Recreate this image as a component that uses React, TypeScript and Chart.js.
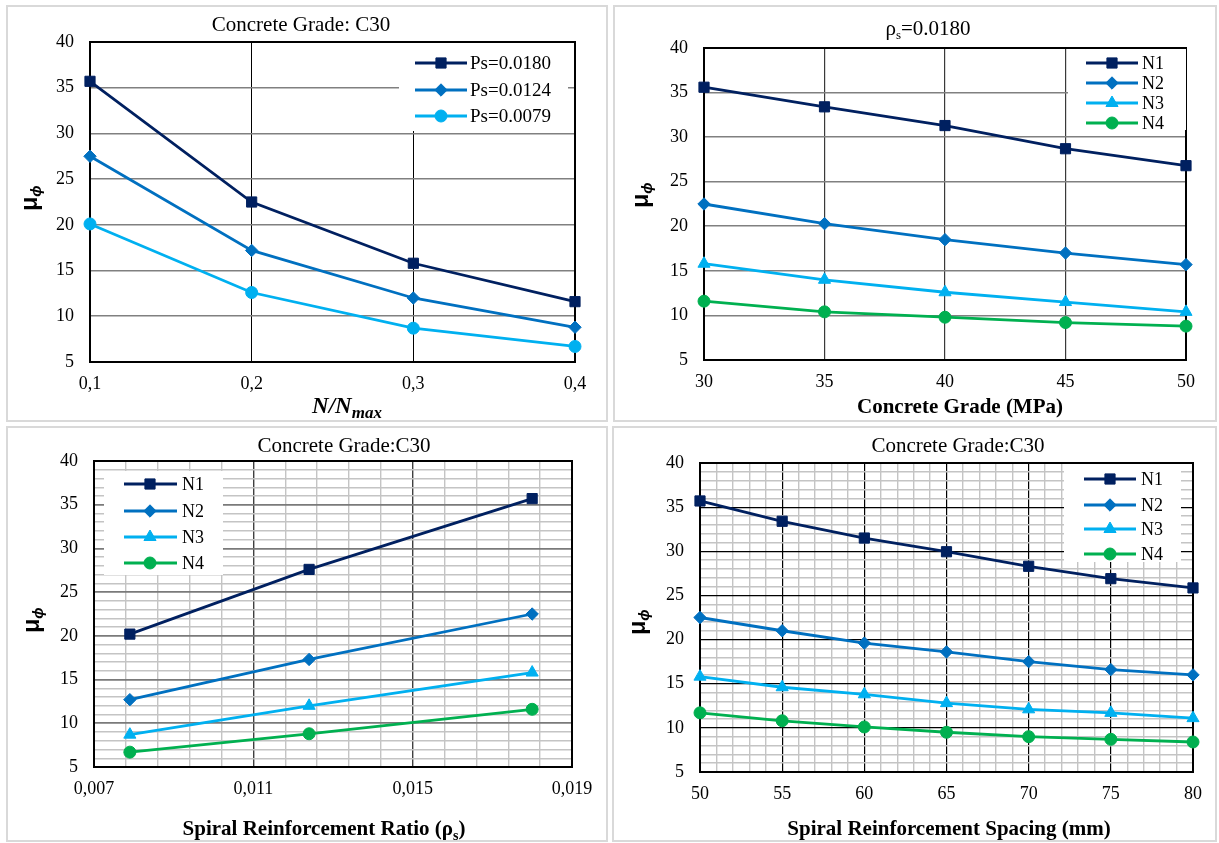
import React, { useEffect, useRef } from 'react';
import { Chart, registerables } from 'chart.js';

Chart.register(...registerables);

const NAVY = '#002060';
const BLUE = '#0070C0';
const CYAN = '#00B0F0';
const GREEN = '#00B050';

const SERIF = '"Liberation Serif", "Times New Roman", serif';
const SANS = '"Liberation Sans", Arial, sans-serif';

// ---------- shared y axis ----------
const yTickLabels = ['5', '10', '15', '20', '25', '30', '35', '40'];

// ---------- Panel A : N/Nmax ----------
const axialRatio = [0.1, 0.2, 0.3, 0.4];
const axialTickLabels = ['0,1', '0,2', '0,3', '0,4'];
const muPs0180 = [35.7, 22.5, 15.8, 11.6];
const muPs0124 = [27.5, 17.2, 12.0, 8.8];
const muPs0079 = [20.1, 12.6, 8.7, 6.7];

// ---------- Panel B : concrete grade ----------
const concreteGrade = [30, 35, 40, 45, 50];
const gradeTickLabels = ['30', '35', '40', '45', '50'];
const gradeN1 = [35.6, 33.4, 31.3, 28.7, 26.8];
const gradeN2 = [22.5, 20.3, 18.5, 17.0, 15.7];
const gradeN3 = [15.8, 14.0, 12.6, 11.5, 10.4];
const gradeN4 = [11.6, 10.4, 9.8, 9.2, 8.8];

// ---------- Panel C : spiral ratio ----------
const spiralRatio = [0.0079, 0.0124, 0.018];
const ratioTickLabels = ['0,007', '0,011', '0,015', '0,019'];
const ratioN1 = [20.2, 27.6, 35.7];
const ratioN2 = [12.7, 17.3, 22.5];
const ratioN3 = [8.7, 12.0, 15.8];
const ratioN4 = [6.7, 8.8, 11.6];

// ---------- Panel D : spiral spacing ----------
const spiralSpacing = [50, 55, 60, 65, 70, 75, 80];
const spacingTickLabels = ['50', '55', '60', '65', '70', '75', '80'];
const spacingN1 = [35.7, 33.4, 31.5, 29.95, 28.3, 26.9, 25.85];
const spacingN2 = [22.5, 21.0, 19.6, 18.6, 17.5, 16.6, 16.0];
const spacingN3 = [15.8, 14.6, 13.8, 12.8, 12.1, 11.7, 11.1];
const spacingN4 = [11.7, 10.8, 10.1, 9.5, 9.0, 8.7, 8.4];

type Marker = 'rect' | 'rectRot' | 'triangle' | 'circle';
const RADIUS: Record<Marker, number> = { rect: 7.2, rectRot: 6.2, triangle: 7, circle: 6 };

interface Series { label: string; values: number[]; color: string; marker: Marker }
interface Seg { t: string; font: string; dy?: number }
interface GridStyle { major: string; majorW: number; minor: string; minorW: number }
interface PanelSpec {
  pos: [number, number, number, number];
  area: [number, number, number, number];
  frame: [number, number, number, number];
  xs: number[];
  series: Series[];
  xMin: number; xMax: number; xStep: number; xEvery: number; xLabels: string[];
  yStep: number; yEvery: number;
  xGrid: GridStyle; yGrid: GridStyle;
  title: Seg[]; titlePos: [number, number];
  xTitle: Seg[]; xTitlePos: [number, number];
  yTitlePos: [number, number];
  legend: { box: [number, number, number, number]; line: [number, number]; mark: number; text: number; rows: number[]; size: number };
}

const nSeries = (a: number[], b: number[], c: number[], d: number[]): Series[] => [
  { label: 'N1', values: a, color: NAVY, marker: 'rect' },
  { label: 'N2', values: b, color: BLUE, marker: 'rectRot' },
  { label: 'N3', values: c, color: CYAN, marker: 'triangle' },
  { label: 'N4', values: d, color: GREEN, marker: 'circle' },
];

const T21 = `21px ${SERIF}`;
const B21 = `bold 21px ${SERIF}`;

const panels: PanelSpec[] = [
  {
    pos: [0, 0, 610, 425],
    area: [90, 42, 575, 362],
    frame: [7, 6, 607, 421],
    xs: axialRatio,
    series: [
      { label: 'Ps=0.0180', values: muPs0180, color: NAVY, marker: 'rect' },
      { label: 'Ps=0.0124', values: muPs0124, color: BLUE, marker: 'rectRot' },
      { label: 'Ps=0.0079', values: muPs0079, color: CYAN, marker: 'circle' },
    ],
    xMin: 0.1, xMax: 0.4, xStep: 0.1, xEvery: 1, xLabels: axialTickLabels,
    yStep: 5, yEvery: 1,
    xGrid: { major: '#000000', majorW: 1, minor: '#000000', minorW: 1 },
    yGrid: { major: '#808080', majorW: 1.6, minor: '#808080', minorW: 1.6 },
    title: [{ t: 'Concrete Grade: C30', font: T21 }], titlePos: [301, 31],
    xTitle: [
      { t: 'N/N', font: `italic bold 23px ${SERIF}` },
      { t: 'max', font: `italic bold 17px ${SERIF}`, dy: 5 },
    ],
    xTitlePos: [347, 413],
    yTitlePos: [37, 198],
    legend: { box: [399, 43, 568, 131], line: [415, 467], mark: 441, text: 470, rows: [63, 90, 116], size: 19 },
  },
  {
    pos: [610, 0, 609, 425],
    area: [94, 48, 576, 360],
    frame: [4, 6, 606, 421],
    xs: concreteGrade,
    series: nSeries(gradeN1, gradeN2, gradeN3, gradeN4),
    xMin: 30, xMax: 50, xStep: 5, xEvery: 1, xLabels: gradeTickLabels,
    yStep: 5, yEvery: 1,
    xGrid: { major: '#3a3a3a', majorW: 1.2, minor: '#3a3a3a', minorW: 1.2 },
    yGrid: { major: '#808080', majorW: 1.6, minor: '#808080', minorW: 1.6 },
    title: [
      { t: 'ρ', font: T21 },
      { t: 's', font: `13px ${SERIF}`, dy: 4 },
      { t: '=0.0180', font: T21 },
    ],
    titlePos: [318, 35],
    xTitle: [{ t: 'Concrete Grade (MPa)', font: B21 }], xTitlePos: [350, 413],
    yTitlePos: [38, 195],
    legend: { box: [458, 49, 576, 130], line: [476, 528], mark: 502, text: 532, rows: [63, 83, 103, 123], size: 18 },
  },
  {
    pos: [0, 425, 610, 418],
    area: [94, 36, 572, 342],
    frame: [7, 2, 607, 416],
    xs: spiralRatio,
    series: nSeries(ratioN1, ratioN2, ratioN3, ratioN4),
    xMin: 0.007, xMax: 0.019, xStep: 0.0008, xEvery: 5, xLabels: ratioTickLabels,
    yStep: 1, yEvery: 5,
    xGrid: { major: '#404040', majorW: 1.4, minor: '#c4c4c4', minorW: 1.4 },
    yGrid: { major: '#7a7a7a', majorW: 1.8, minor: '#c4c4c4', minorW: 1.4 },
    title: [{ t: 'Concrete Grade:C30', font: T21 }], titlePos: [344, 27],
    xTitle: [
      { t: 'Spiral Reinforcement Ratio (ρ', font: B21 },
      { t: 's', font: `bold 14px ${SERIF}`, dy: 5 },
      { t: ')', font: B21 },
    ],
    xTitlePos: [324, 410],
    yTitlePos: [39, 195],
    legend: { box: [104, 46, 223, 150], line: [124, 177], mark: 150, text: 182, rows: [59, 86, 112, 138], size: 18 },
  },
  {
    pos: [610, 425, 609, 418],
    area: [90, 38, 583, 347],
    frame: [3, 2, 606, 416],
    xs: spiralSpacing,
    series: nSeries(spacingN1, spacingN2, spacingN3, spacingN4),
    xMin: 50, xMax: 80, xStep: 1, xEvery: 5, xLabels: spacingTickLabels,
    yStep: 1, yEvery: 5,
    xGrid: { major: '#000000', majorW: 1.2, minor: '#c4c4c4', minorW: 1.4 },
    yGrid: { major: '#000000', majorW: 1.2, minor: '#c4c4c4', minorW: 1.4 },
    title: [{ t: 'Concrete Grade:C30', font: T21 }], titlePos: [348, 27],
    xTitle: [{ t: 'Spiral Reinforcement Spacing (mm)', font: B21 }], xTitlePos: [339, 410],
    yTitlePos: [35, 197],
    legend: { box: [454, 39, 571, 137], line: [474, 526], mark: 500, text: 531, rows: [54, 80, 104, 129], size: 18 },
  },
];

function drawRich(ctx: CanvasRenderingContext2D, segs: Seg[], x: number, y: number) {
  let total = 0;
  const widths = segs.map((s) => {
    ctx.font = s.font;
    const w = ctx.measureText(s.t).width;
    total += w;
    return w;
  });
  let cx = x - total / 2;
  ctx.textAlign = 'left';
  ctx.textBaseline = 'alphabetic';
  segs.forEach((s, i) => {
    ctx.font = s.font;
    ctx.fillText(s.t, cx, y + (s.dy || 0));
    cx += widths[i];
  });
}

function drawMarker(ctx: CanvasRenderingContext2D, m: Marker, x: number, y: number, color: string) {
  const r = RADIUS[m];
  ctx.beginPath();
  if (m === 'rect') {
    const s = Math.SQRT1_2 * r;
    ctx.rect(x - s, y - s, 2 * s, 2 * s);
  } else if (m === 'rectRot') {
    ctx.moveTo(x - r, y);
    ctx.lineTo(x, y - r);
    ctx.lineTo(x + r, y);
    ctx.lineTo(x, y + r);
    ctx.closePath();
  } else if (m === 'triangle') {
    for (let k = 0; k < 3; k++) {
      const a = (k * 2 * Math.PI) / 3;
      const px = x + Math.sin(a) * r;
      const py = y - Math.cos(a) * r;
      if (k === 0) ctx.moveTo(px, py); else ctx.lineTo(px, py);
    }
    ctx.closePath();
  } else {
    ctx.arc(x, y, r, 0, Math.PI * 2);
  }
  ctx.fillStyle = color;
  ctx.fill();
  ctx.strokeStyle = color;
  ctx.lineWidth = 1;
  ctx.stroke();
}

function buildConfig(p: PanelSpec): any {
  const [, , W, H] = p.pos;
  const [al, at, ar, ab] = p.area;
  const tickFont = { family: SERIF, size: 18 };
  const decor = {
    id: 'decor',
    beforeDatasetsDraw(chart: any) {
      const ctx = chart.ctx as CanvasRenderingContext2D;
      const a = chart.chartArea;
      ctx.save();
      ctx.strokeStyle = '#000';
      ctx.lineWidth = 2;
      ctx.strokeRect(a.left, a.top, a.right - a.left, a.bottom - a.top);
      ctx.restore();
    },
    afterDraw(chart: any) {
      const ctx = chart.ctx as CanvasRenderingContext2D;
      ctx.save();
      // legend
      const lg = p.legend;
      ctx.fillStyle = '#ffffff';
      ctx.fillRect(lg.box[0], lg.box[1], lg.box[2] - lg.box[0], lg.box[3] - lg.box[1]);
      p.series.forEach((s, i) => {
        const y = lg.rows[i];
        ctx.strokeStyle = s.color;
        ctx.lineWidth = 2.8;
        ctx.beginPath();
        ctx.moveTo(lg.line[0], y);
        ctx.lineTo(lg.line[1], y);
        ctx.stroke();
        drawMarker(ctx, s.marker, lg.mark, y, s.color);
        ctx.fillStyle = '#000';
        ctx.font = `${lg.size}px ${SERIF}`;
        ctx.textAlign = 'left';
        ctx.textBaseline = 'middle';
        ctx.fillText(s.label, lg.text, y + 1);
      });
      // titles
      ctx.fillStyle = '#000';
      drawRich(ctx, p.title, p.titlePos[0], p.titlePos[1]);
      drawRich(ctx, p.xTitle, p.xTitlePos[0], p.xTitlePos[1]);
      ctx.save();
      ctx.translate(p.yTitlePos[0], p.yTitlePos[1]);
      ctx.rotate(-Math.PI / 2);
      drawRich(ctx, [
        { t: 'μ', font: `bold 23px ${SANS}` },
        { t: 'ϕ', font: `italic bold 15px ${SANS}`, dy: 4 },
      ], 0, 0);
      ctx.restore();
      // panel border
      ctx.strokeStyle = '#d9d9d9';
      ctx.lineWidth = 2;
      const f = p.frame;
      ctx.strokeRect(f[0], f[1], f[2] - f[0], f[3] - f[1]);
      ctx.restore();
    },
  };
  return {
    type: 'line',
    data: {
      datasets: p.series.map((s) => ({
        label: s.label,
        data: p.xs.map((x, i) => ({ x, y: s.values[i] })),
        borderColor: s.color,
        backgroundColor: s.color,
        borderWidth: 2.8,
        pointStyle: s.marker,
        pointRadius: RADIUS[s.marker],
        pointBorderWidth: 1,
        pointBorderColor: s.color,
        pointBackgroundColor: s.color,
        tension: 0,
        clip: false,
      })),
    },
    options: {
      responsive: false,
      animation: false,
      devicePixelRatio: 1,
      events: [],
      layout: { padding: { left: 0, top: at, right: W - ar, bottom: 0 } },
      plugins: { legend: { display: false }, tooltip: { enabled: false }, title: { display: false } },
      scales: {
        x: {
          type: 'linear',
          min: p.xMin,
          max: p.xMax,
          afterFit: (s: any) => { s.height = H - ab; },
          border: { display: false },
          grid: {
            drawTicks: false,
            color: (c: any) => (c.index % p.xEvery === 0 ? p.xGrid.major : p.xGrid.minor),
            lineWidth: (c: any) => (c.index % p.xEvery === 0 ? p.xGrid.majorW : p.xGrid.minorW),
          },
          ticks: {
            stepSize: p.xStep,
            autoSkip: false,
            maxTicksLimit: 1000,
            maxRotation: 0,
            minRotation: 0,
            padding: 11,
            color: '#000',
            font: tickFont,
            callback: (_v: any, i: number) => (i % p.xEvery === 0 ? p.xLabels[i / p.xEvery] : ''),
          },
        },
        y: {
          type: 'linear',
          min: 5,
          max: 40,
          afterFit: (s: any) => { s.width = al; },
          border: { display: false },
          grid: {
            drawTicks: false,
            color: (c: any) => (c.index % p.yEvery === 0 ? p.yGrid.major : p.yGrid.minor),
            lineWidth: (c: any) => (c.index % p.yEvery === 0 ? p.yGrid.majorW : p.yGrid.minorW),
          },
          ticks: {
            stepSize: p.yStep,
            autoSkip: false,
            maxTicksLimit: 1000,
            padding: 16,
            color: '#000',
            font: tickFont,
            callback: (_v: any, i: number) => (i % p.yEvery === 0 ? yTickLabels[i / p.yEvery] : ''),
          },
        },
      },
    },
    plugins: [decor],
  };
}

function Panel({ spec }: { spec: PanelSpec }) {
  const ref = useRef<HTMLCanvasElement>(null);
  useEffect(() => {
    const chart = new Chart(ref.current as HTMLCanvasElement, buildConfig(spec));
    return () => chart.destroy();
  }, [spec]);
  const [left, top, w, h] = spec.pos;
  return (
    <canvas
      ref={ref}
      width={w}
      height={h}
      style={{ position: 'absolute', left, top, width: w, height: h, display: 'block' }}
    />
  );
}

export default function App() {
  return (
    <div style={{ position: 'fixed', left: 0, top: 0, width: 1219, height: 843, background: '#ffffff', overflow: 'hidden' }}>
      {panels.map((p, i) => (
        <Panel key={i} spec={p} />
      ))}
    </div>
  );
}
